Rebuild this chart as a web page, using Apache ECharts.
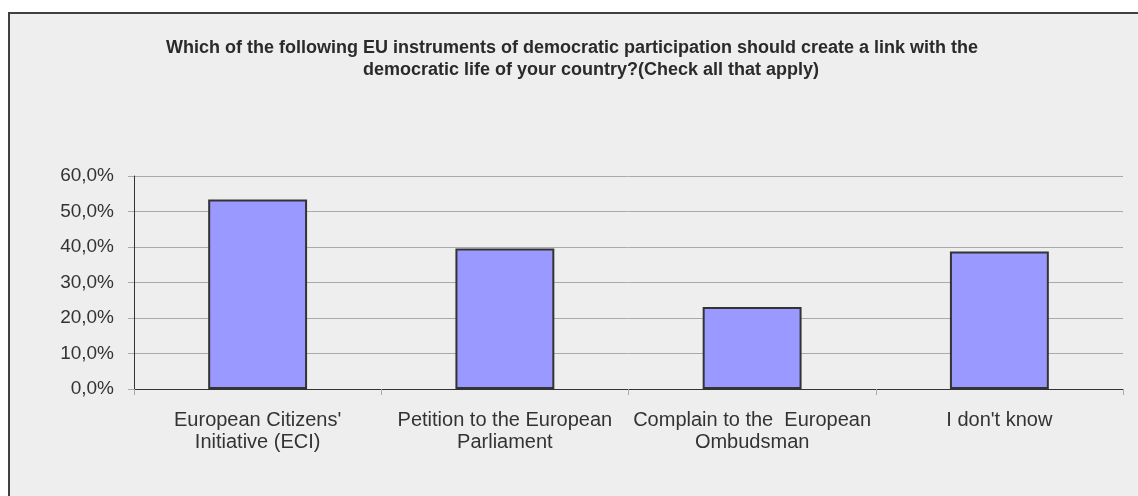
<!DOCTYPE html>
<html><head><meta charset="utf-8">
<script src="https://cdn.jsdelivr.net/npm/echarts@6/dist/echarts.min.js"></script>
<style>
html,body{margin:0;padding:0;background:#fff;width:1138px;height:496px;overflow:hidden;}
#frame{position:absolute;left:8px;top:12px;width:1140px;height:500px;border:2px solid #404040;background:#eeeeee;box-sizing:border-box;}
#chart{position:absolute;left:0;top:0;width:1138px;height:496px;}
</style></head>
<body>
<div id="frame"></div>
<div id="chart"></div>
<script>
const titleLine1 = "Which of the following EU instruments of democratic participation should create a link with the";
const titleLine2 = "democratic life of your country?(Check all that apply)";
const categories = ["European Citizens'\nInitiative (ECI)", "Petition to the European\nParliament", "Complain to the  European\nOmbudsman", "I don't know"];
const values = [0.534, 0.396, 0.231, 0.387];

const FONT = 'Liberation Sans, Arial, sans-serif';
const titleStyle = {fontFamily: FONT, fontWeight: 'bold', fontSize: 18, color: '#2a2a2a', lineHeight: 18};
const chart = echarts.init(document.getElementById('chart'), null, {renderer:'canvas'});
chart.setOption({
  backgroundColor: 'transparent',
  animation: false,
  title: [
    {text: titleLine1, left: 567, top: 34, textAlign: 'center', textStyle: titleStyle},
    {text: titleLine2, left: 586, top: 56, textAlign: 'center', textStyle: titleStyle}
  ],
  grid: {left: 134, right: 15, top: 176, bottom: 107, containLabel: false},
  xAxis: {
    type: 'category', data: categories,
    axisLine: {lineStyle: {color: '#333', width: 1}},
    axisTick: {show: true, alignWithLabel: false, length: 6, lineStyle: {color: '#aaa'}},
    axisLabel: {interval: 0, margin: 20, fontFamily: FONT, fontSize: 20, color: '#333', lineHeight: 22}
  },
  yAxis: {
    type: 'value', min: 0, max: 0.6, interval: 0.1,
    axisLine: {show: true, lineStyle: {color: '#333', width: 1}},
    axisTick: {show: true, length: 6, lineStyle: {color: '#aaa'}},
    splitLine: {show: true, lineStyle: {color: '#aaa', width: 1}},
    axisLabel: {margin: 20, fontFamily: FONT, fontSize: 19, color: '#333',
      formatter: v => (v*100).toFixed(1).replace('.', ',') + '%'}
  },
  series: [{
    type: 'bar', data: values, barWidth: '40%',
    itemStyle: {color: '#9999ff', borderColor: '#333', borderWidth: 2}
  }]
});
</script>
</body></html>
